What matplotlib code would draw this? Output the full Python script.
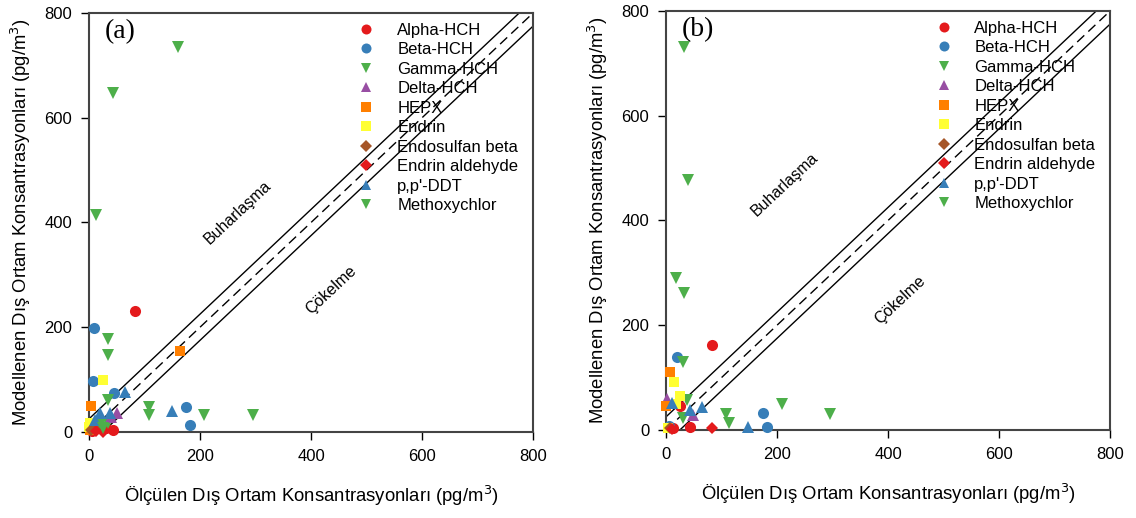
import matplotlib
matplotlib.use("Agg")
import matplotlib.pyplot as plt

plt.rcParams['font.family'] = ['Liberation Sans', 'DejaVu Sans']

names = ["Alpha-HCH", "Beta-HCH", "Gamma-HCH", "Delta-HCH", "HEPX", "Endrin",
         "Endosulfan beta", "Endrin aldehyde", "p,p'-DDT", "Methoxychlor"]
colors = ["#e41a1c", "#377eb8", "#4daf4a", "#984ea3", "#ff7f00", "#ffff33",
          "#a65628", "#e41a1c", "#377eb8", "#4daf4a"]
markers = ["o", "o", "v", "^", "s", "s", "D", "D", "^", "v"]
msizes = [8, 8, 8.5, 8.5, 7.5, 7.5, 6.5, 6.5, 8.5, 8.5]

# (a) measured (x) vs modelled (y)
a_x = {
    "Alpha-HCH": [83, 43, 30, 5],
    "Beta-HCH": [9, 8, 45, 175, 182, 4],
    "Gamma-HCH": [34, 34, 34, 109, 109, 20, 34],
    "Delta-HCH": [50, 40],
    "HEPX": [164, 4, 2],
    "Endrin": [26, 2, 0],
    "Endosulfan beta": [4, 10],
    "Endrin aldehyde": [25, 12],
    "p,p'-DDT": [65, 149, 20, 38, 10],
    "Methoxychlor": [160, 43, 13, 208, 295, 25],
}
a_y = {
    "Alpha-HCH": [231, 4, 8, 2],
    "Beta-HCH": [199, 98, 74, 48, 13, 6],
    "Gamma-HCH": [177, 147, 61, 47, 32, 13, 17],
    "Delta-HCH": [36, 28],
    "HEPX": [155, 50, 4],
    "Endrin": [99, 17, 10],
    "Endosulfan beta": [3, 5],
    "Endrin aldehyde": [0, 2],
    "p,p'-DDT": [77, 40, 36, 36, 22],
    "Methoxychlor": [735, 647, 414, 32, 32, 8],
}

# (b)
b_x = {
    "Alpha-HCH": [82, 43, 25, 12],
    "Beta-HCH": [19, 175, 181, 5],
    "Gamma-HCH": [31, 108, 114, 37, 31],
    "Delta-HCH": [2, 49],
    "HEPX": [8, 0],
    "Endrin": [14, 25, 4, 18],
    "Endosulfan beta": [7],
    "Endrin aldehyde": [82, 10],
    "p,p'-DDT": [64, 148, 10, 43],
    "Methoxychlor": [32, 40, 18, 32, 208, 296],
}
b_y = {
    "Alpha-HCH": [162, 6, 45, 3],
    "Beta-HCH": [139, 32, 6, 8],
    "Gamma-HCH": [130, 31, 13, 57, 23],
    "Delta-HCH": [60, 29],
    "HEPX": [111, 45],
    "Endrin": [92, 64, 4, 50],
    "Endosulfan beta": [4],
    "Endrin aldehyde": [3, 2],
    "p,p'-DDT": [43, 6, 51, 38],
    "Methoxychlor": [731, 477, 290, 262, 50, 31],
}

ticks = [0, 200, 400, 600, 800]
offset = 25

fig = plt.figure(figsize=(11.36, 5.18), dpi=100)
ax_a = fig.add_axes([0.0783, 0.166, 0.391, 0.809])
ax_b = fig.add_axes([0.5863, 0.170, 0.391, 0.809])

panels = [(ax_a, a_x, a_y, "(a)", (268, 420), (436, 271)),
          (ax_b, b_x, b_y, "(b)", (214, 468), (422, 248))]

for ax, dx, dy, tag, buh, cok in panels:
    # 1:1 line and +/- band
    ax.plot([0, 800], [0, 800], color="black", lw=1, ls=(0, (7, 4)))
    ax.plot([0, 800 - offset], [offset, 800], color="black", lw=1)
    ax.plot([offset, 800], [0, 800 - offset], color="black", lw=1)

    for n, c, m, ms in zip(names, colors, markers, msizes):
        ax.plot(dx[n], dy[n], ls="none", marker=m, color=c, markersize=ms,
                markeredgewidth=0, label=n, clip_on=False, zorder=3)

    ax.set_xlim(0, 800)
    ax.set_ylim(0, 800)
    ax.set_xticks(ticks)
    ax.set_yticks(ticks)
    ax.tick_params(direction="out", length=6, width=1, labelsize=12,
                   colors="black", pad=6)
    for s in ax.spines.values():
        s.set_color("#444444")
        s.set_linewidth(1.5)

    ax.set_xlabel("Ölçülen Dış Ortam Konsantrasyonları (pg/m$^3$)", fontsize=13.3)
    ax.set_ylabel("Modellenen Dış Ortam Konsantrasyonları (pg/m$^3$)", fontsize=13.3)
    ax.xaxis.set_label_coords(0.5, -0.125)
    ax.yaxis.set_label_coords(-0.127, 0.5)

    ax.text(0.036, 0.985, tag, transform=ax.transAxes, ha="left", va="top",
            fontsize=20, family="Liberation Serif")
    ax.text(buh[0], buh[1], "Buharlaşma", rotation=43, ha="center",
            va="center", fontsize=11.5)
    ax.text(cok[0], cok[1], "Çökelme", rotation=43, ha="center",
            va="center", fontsize=11.5)

    ax.legend(loc="upper left", bbox_to_anchor=(0.606, 0.977), frameon=False,
              fontsize=12, handlelength=1.0, handletextpad=1.35,
              labelspacing=0.27, borderpad=0, borderaxespad=0,
              markerscale=0.9)

fig.savefig("out.png", dpi=100)
